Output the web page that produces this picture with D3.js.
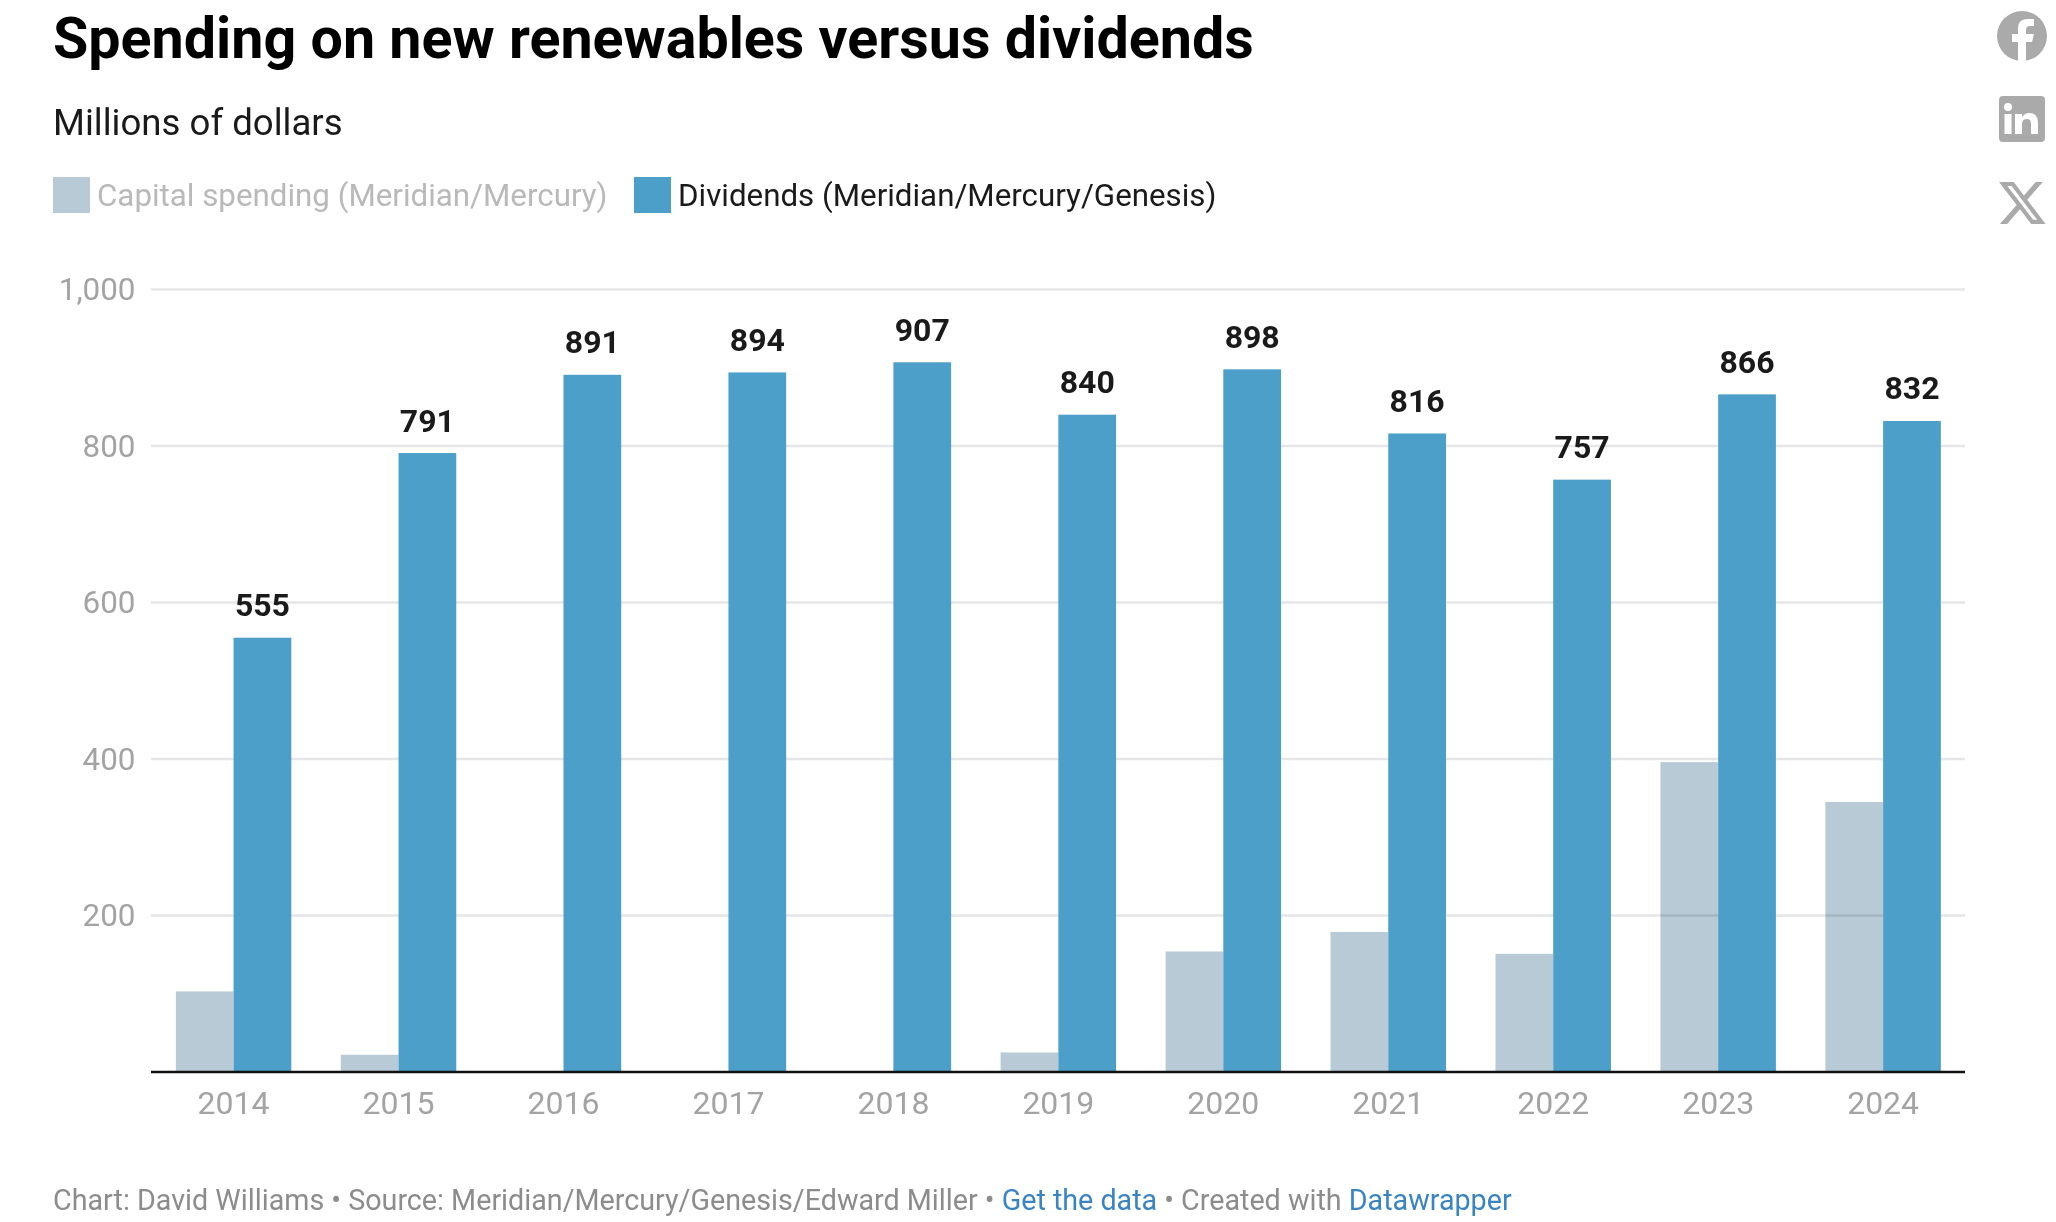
<!DOCTYPE html>
<html>
<head>
<meta charset="utf-8">
<script src="https://cdn.jsdelivr.net/npm/d3@7"></script>
<style>
body { margin: 0; background: #fff; font-family: Roboto, sans-serif; }
svg { display: block; }
a { text-decoration: none; }
</style>
</head>
<body>
<svg id="chart" width="2056" height="1222"></svg>
<script>
const years = ["2014","2015","2016","2017","2018","2019","2020","2021","2022","2023","2024"];
const capitalSpending = [103, 22, 0, 0, 0, 25, 154, 179, 151, 396, 345];
const dividends = [555, 791, 891, 894, 907, 840, 898, 816, 757, 866, 832];
const yTicks = [200, 400, 600, 800, 1000];
const legendLabels = ["Capital spending (Meridian/Mercury)", "Dividends (Meridian/Mercury/Genesis)"];

const greyColor = "#b7cad6";
const blueColor = "#4c9fc9";

const svg = d3.select("#chart");

const x = d3.scaleBand().domain(years).range([151.1, 1965.6]).paddingInner(0.3).paddingOuter(0.15);
const y = d3.scaleLinear().domain([0, 1000]).range([1072, 289.5]);
const barWidth = x.bandwidth() / 2;

// Title block
svg.append("text").attr("x", 53).attr("y", 58)
    .style("font-size", "57.4px").style("font-weight", 700).style("fill", "#000")
    .text("Spending on new renewables versus dividends");
svg.append("text").attr("x", 53).attr("y", 134.5)
    .style("font-size", "36.6px").style("fill", "#1a1a1a")
    .text("Millions of dollars");

// Legend
const legendX = [53, 634];
legendLabels.forEach((label, i) => {
    svg.append("rect").attr("x", legendX[i]).attr("y", 177).attr("width", 37).attr("height", 36)
        .style("fill", i ? blueColor : greyColor);
    svg.append("text").attr("x", legendX[i] + 44).attr("y", 206)
        .style("font-size", "31.3px").style("fill", i ? "#1a1a1a" : "#b9b9b9")
        .text(label);
});

// Grid lines
svg.selectAll(".grid").data(yTicks).enter().append("line")
    .attr("class", "grid")
    .attr("x1", 151).attr("x2", 1965)
    .attr("y1", d => y(d)).attr("y2", d => y(d))
    .style("stroke", "#e6e6e6").style("stroke-width", 2.6);

svg.selectAll(".ytick").data(yTicks).enter().append("text")
    .attr("class", "ytick")
    .attr("x", 135.5).attr("y", d => y(d) + 10.5)
    .attr("text-anchor", "end")
    .style("font-size", "31.4px").style("fill", "#a3a3a3")
    .text(d => d3.format(",")(d));

// Bars
svg.selectAll(".capital").data(capitalSpending).enter().append("rect")
    .attr("class", "capital")
    .attr("x", (d, i) => x(years[i]))
    .attr("y", d => y(d))
    .attr("width", barWidth)
    .attr("height", d => y(0) - y(d))
    .style("fill", greyColor)
    .style("mix-blend-mode", "multiply");

svg.selectAll(".dividend").data(dividends).enter().append("rect")
    .attr("class", "dividend")
    .attr("x", (d, i) => x(years[i]) + barWidth)
    .attr("y", d => y(d))
    .attr("width", barWidth)
    .attr("height", d => y(0) - y(d))
    .style("fill", blueColor);

svg.selectAll(".value").data(dividends).enter().append("text")
    .attr("class", "value")
    .attr("x", (d, i) => x(years[i]) + barWidth * 1.5)
    .attr("y", d => y(d) - 21.5)
    .attr("text-anchor", "middle")
    .style("font-size", "32px").style("font-weight", 700).style("fill", "#1a1a1a")
    .text(d => d);

// Baseline and year labels
svg.append("line").attr("x1", 151).attr("x2", 1965)
    .attr("y1", y(0)).attr("y2", y(0))
    .style("stroke", "#111").style("stroke-width", 2.4);

svg.selectAll(".xtick").data(years).enter().append("text")
    .attr("class", "xtick")
    .attr("x", d => x(d) + x.bandwidth() / 2)
    .attr("y", 1114)
    .attr("text-anchor", "middle")
    .style("font-size", "32px").style("fill", "#a3a3a3")
    .text(d => d);

// Footer
const footer = svg.append("text").attr("x", 53).attr("y", 1210)
    .style("font-size", "28.7px").style("fill", "#8c8c8c");
footer.append("tspan").text("Chart: David Williams • Source: Meridian/Mercury/Genesis/Edward Miller • ");
footer.append("tspan").style("fill", "#3a84c4").text("Get the data");
footer.append("tspan").text(" • Created with ");
footer.append("tspan").style("fill", "#3a84c4").text("Datawrapper");

// Share icons
const icons = svg.append("g").style("fill", "#aaaaaa");
icons.append("circle").attr("cx", 2022).attr("cy", 36).attr("r", 25);
icons.append("path").style("fill", "#fff")
    .attr("d", "M2018 61 V42 H2012 V34 H2018 V28 Q2018 19 2028 19 H2034 V26 H2030 Q2026 26 2026 30 V34 H2034 L2032 42 H2026 V61 Z");
icons.append("rect").attr("x", 1999).attr("y", 96).attr("width", 46).attr("height", 46).attr("rx", 4);
icons.append("circle").attr("cx", 2008).attr("cy", 107).attr("r", 4).style("fill", "#fff");
icons.append("rect").attr("x", 2004.5).attr("y", 114).attr("width", 7).attr("height", 20).style("fill", "#fff");
icons.append("path").style("fill", "#fff")
    .attr("d", "M2015 114 H2022 V117 Q2025 113 2029 113 Q2038 113 2038 123 V134 H2031 V124 Q2031 119 2027 119 Q2022 119 2022 124 V134 H2015 Z");
icons.append("path")
    .attr("transform", "translate(1996.3,177.1) scale(2.16)")
    .attr("d", "M18.244 2.25h3.308l-7.227 8.26 8.502 11.24H16.17l-5.214-6.817L4.99 21.75H1.68l7.73-8.835L1.254 2.25H8.08l4.713 6.231zm-1.161 17.52h1.833L7.084 4.126H5.117z");
</script>
</body>
</html>
